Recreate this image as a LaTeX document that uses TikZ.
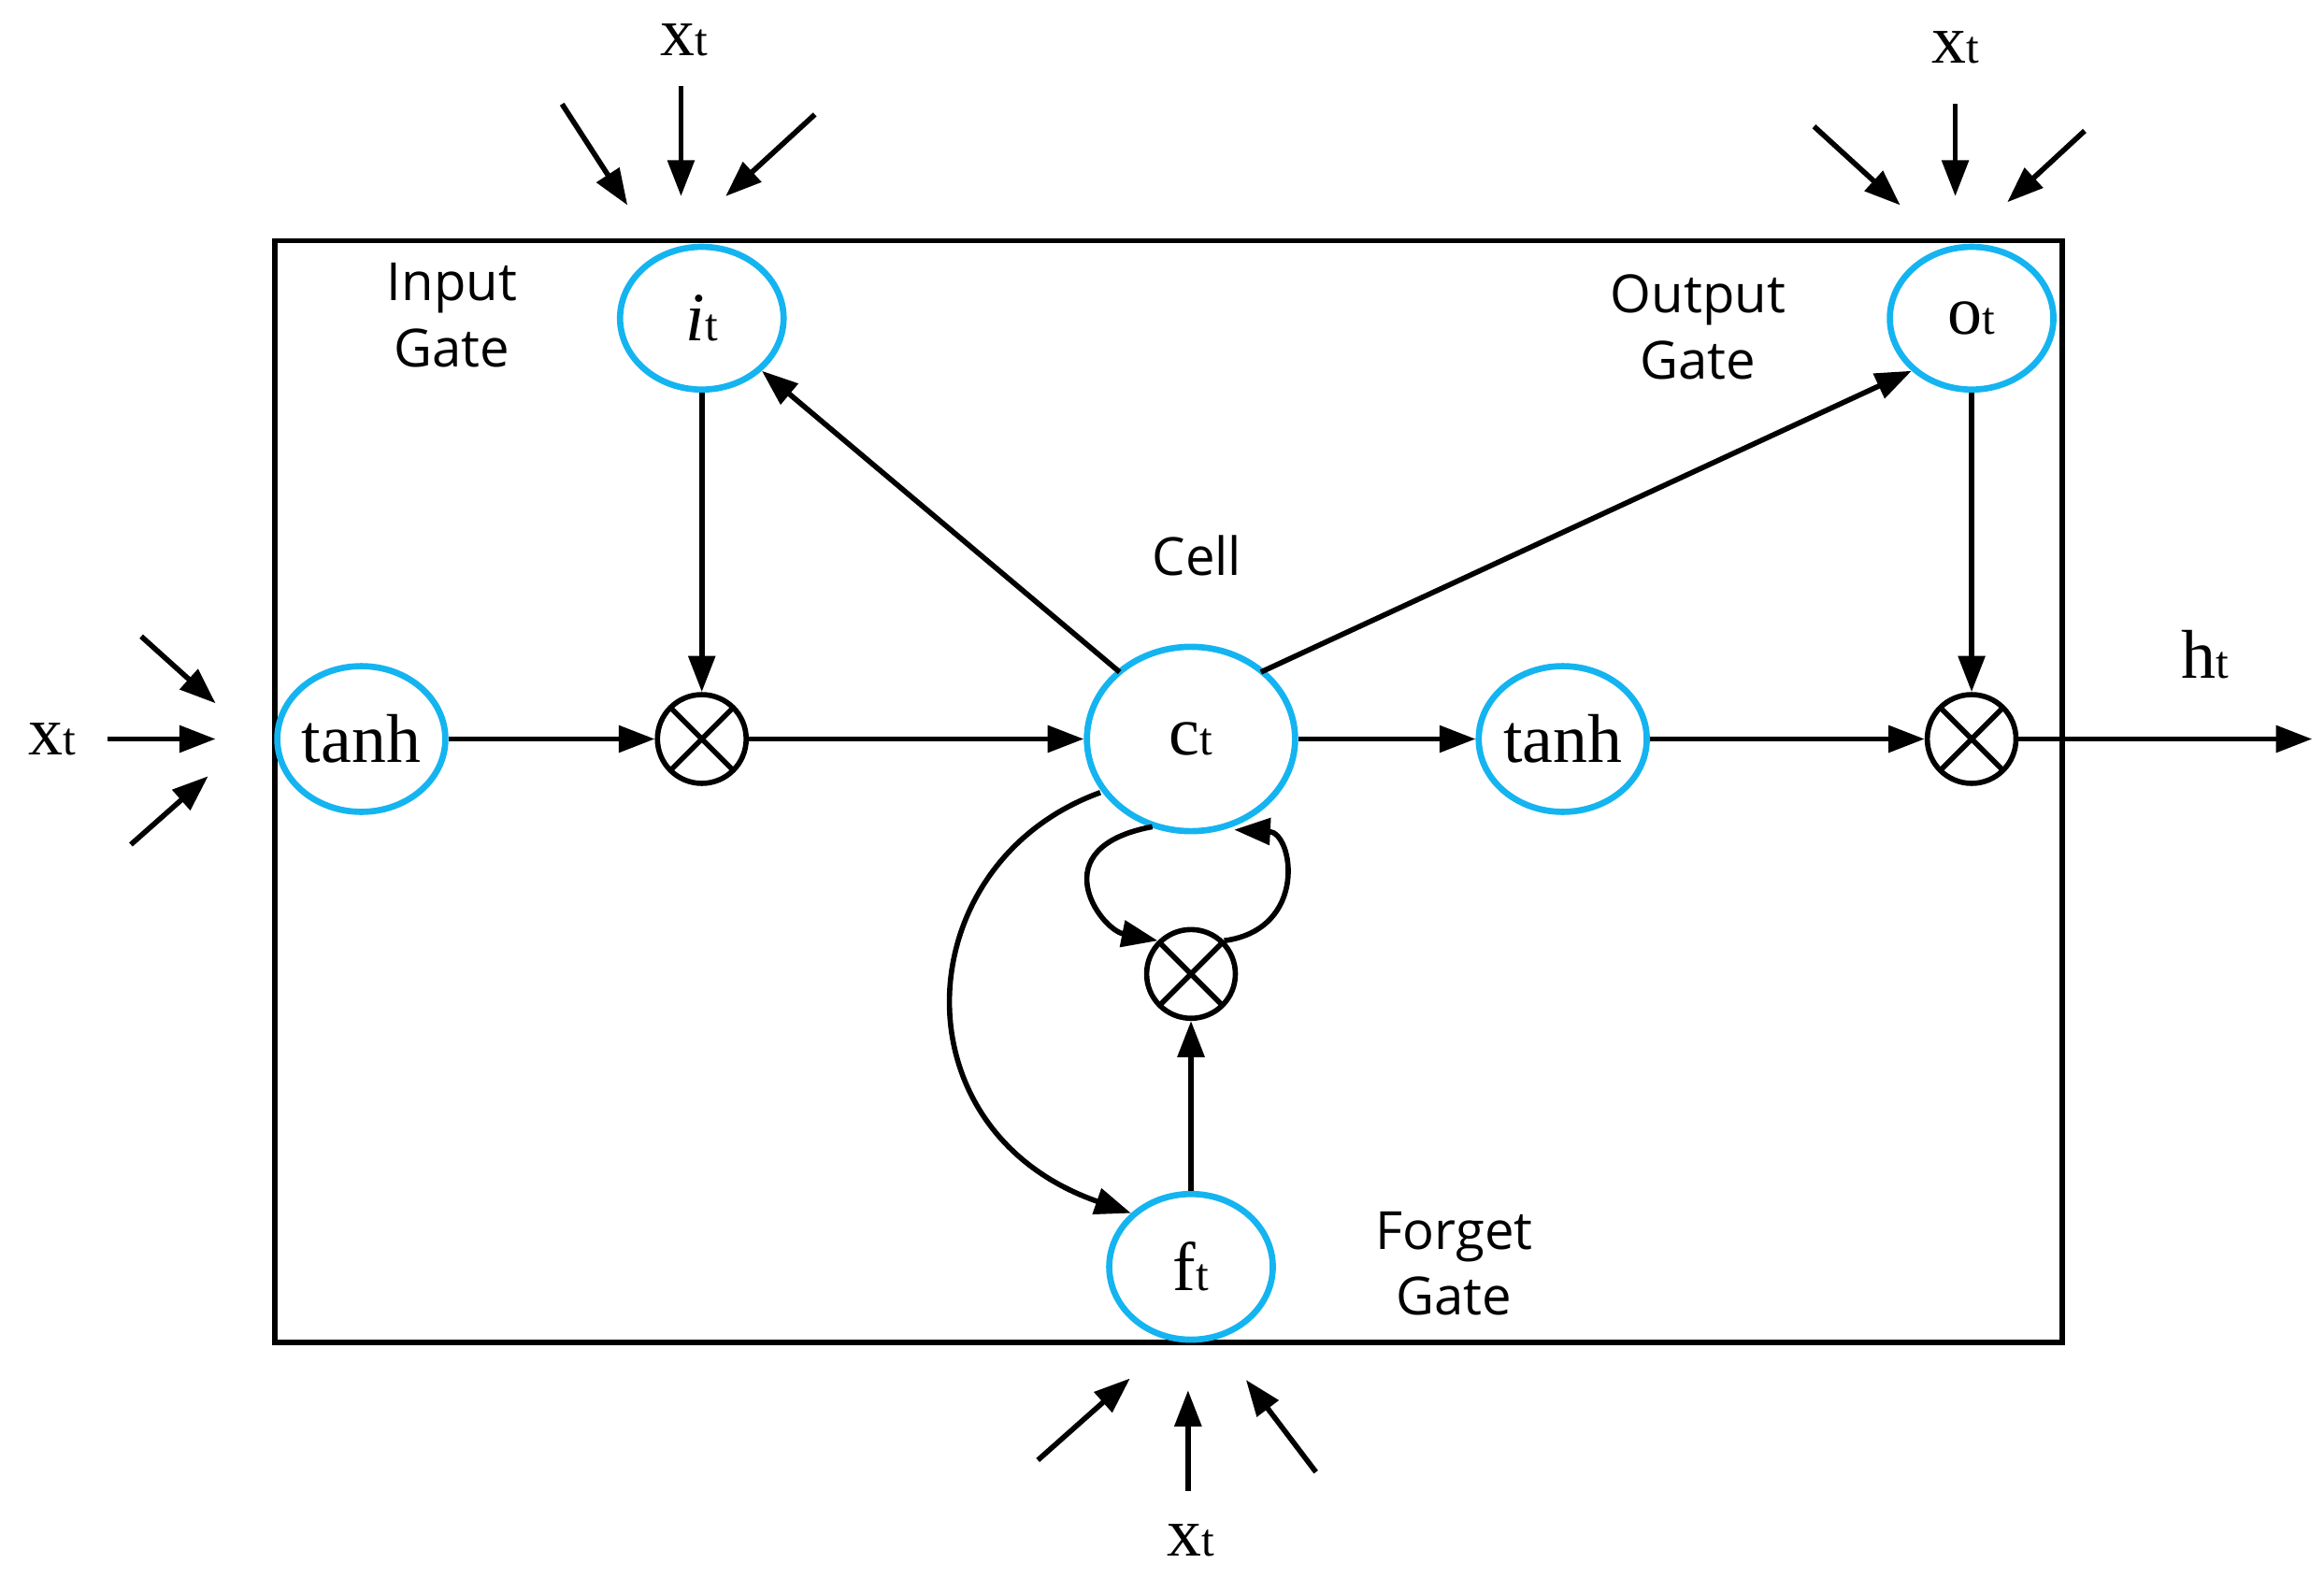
\documentclass[tikz,border=0pt]{standalone}
\usepackage{fontspec}
\setmainfont{Liberation Serif}
\newfontfamily\lsans{Open Sans}
\usetikzlibrary{arrows.meta,shapes.geometric}
\newcommand{\sm}[1]{{\fontsize{14}{14}\selectfont #1}}
\begin{document}
\begin{tikzpicture}[x=0.0159cm,y=-0.0159cm,
  ln/.style={line width=1.6pt},
  ar/.style={ln,-{Triangle[length=11pt,width=8pt]}},
  cyanell/.style={draw={rgb,255:red,20;green,180;blue,240},line width=1.9pt,ellipse,inner sep=0pt},
  ot/.style={circle,draw,line width=1.6pt,minimum size=27pt,inner sep=0pt,path picture={
     \draw[line width=1.6pt] (path picture bounding box.south west)--(path picture bounding box.north east)
     (path picture bounding box.north west)--(path picture bounding box.south east);}},
  lab/.style={font=\lsans\fontsize{16}{20}\selectfont,align=center},
  ser/.style={font=\fontsize{21}{21}\selectfont}]
\useasboundingbox (0,0) rectangle (1563,1061);
\draw[ln] (185,162) rectangle (1387,903);
\tikzset{E/.style 2 args={cyanell,minimum width=#1*0.0318cm,minimum height=#2*0.0318cm}}
\node[E={55}{48},ser] (it) at (472,214) {\textit{i}\sm{t}};
\node[E={55}{48},ser] (ogt) at (1326,214) {o\sm{t}};
\node[E={53}{49},ser] (tl) at (243,497) {tanh};
\node[E={70}{62},ser] (ct) at (801,497) {c\sm{t}};
\node[E={55}{49},ser] (tr) at (1051,497) {tanh};
\node[E={55}{49},ser] (ft) at (801,852) {f\sm{t}};
\node[ot] (m1) at (472,497) {};
\node[ot] (m2) at (1326,497) {};
\node[ot] (m3) at (801,655) {};
\node[lab] at (304,212) {Input\\Gate};
\node[lab] at (1142,220) {Output\\Gate};
\node[lab] at (805,374) {Cell};
\node[lab] at (978,850) {Forget\\Gate};
\draw[ar] (tl) -- (m1);
\draw[ar] (m1) -- (ct);
\draw[ar] (it) -- (m1);
\draw[ar] (753,452) -- (it.south east);
\draw[ar] (848,452) -- (ogt.south west);
\draw[ar] (ct) -- (tr);
\draw[ar] (tr) -- (m2);
\draw[ar] (ogt) -- (m2);
\coordinate (ho) at (1555,497);
\draw[ar] (m2) -- (ho);
\node[ser] at (1483,440) {h\sm{t}};
\draw[ar] (ft) -- (m3);
\draw[ar] (775,556) .. controls (700,570) and (740,625) .. (m3.north west);
\draw[ar] (m3.north east) .. controls (880,625) and (870,560) .. (830,558);
\draw[ar] (740,533) .. controls (610,580) and (600,760) .. (ft.north west);
% inputs
\node[ser] at (460,27) {x\sm{t}};
\draw[ar] (458,58) -- (458,132); \draw[ar] (378,70) -- (422,138); \draw[ar] (548,77) -- (488,132);
\node[ser] at (1315,32) {x\sm{t}};
\draw[ar] (1315,70) -- (1315,132); \draw[ar] (1220,85) -- (1278,138); \draw[ar] (1402,88) -- (1350,136);
\node[ser] at (35,497) {x\sm{t}};
\draw[ar] (72,497) -- (145,497); \draw[ar] (95,428) -- (145,473); \draw[ar] (88,568) -- (140,522);
\node[ser] at (801,1036) {x\sm{t}};
\draw[ar] (799,1003) -- (799,935); \draw[ar] (698,982) -- (760,927); \draw[ar] (885,990) -- (838,928);
\end{tikzpicture}
\end{document}
